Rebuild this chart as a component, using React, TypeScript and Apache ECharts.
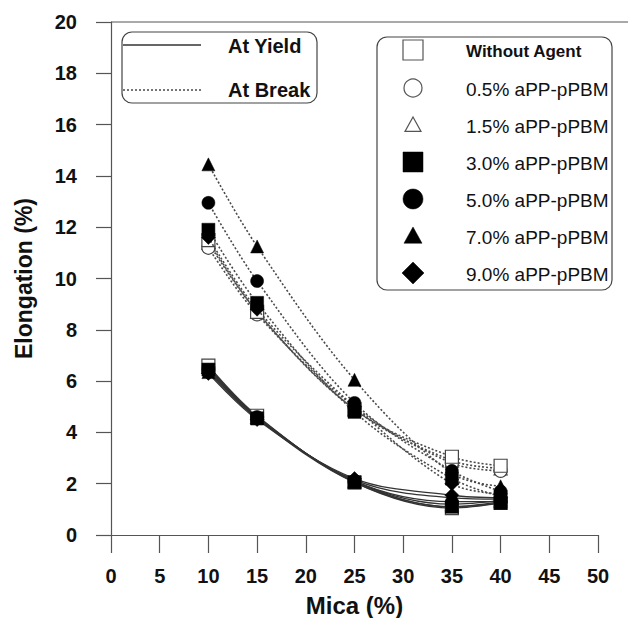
import React, { useEffect, useRef } from "react";
import * as echarts from "echarts";

const mica = [10, 15, 25, 35, 40];
const agents = [
  "Without Agent",
  "0.5% aPP-pPBM",
  "1.5% aPP-pPBM",
  "3.0% aPP-pPBM",
  "5.0% aPP-pPBM",
  "7.0% aPP-pPBM",
  "9.0% aPP-pPBM",
];
const breakWithout = [11.5, 8.7, 4.9, 3.05, 2.7];
const break05 = [11.2, 8.6, 5.0, 2.8, 2.5];
const break15 = [11.4, 8.7, 4.9, 2.9, 2.6];
const break30 = [11.9, 9.05, 4.8, 2.2, 1.5];
const break50 = [12.95, 9.9, 5.15, 2.5, 1.7];
const break70 = [14.45, 11.25, 6.05, 2.4, 1.9];
const break90 = [11.6, 8.8, 5.0, 2.0, 1.6];
const yieldWithout = [6.6, 4.65, 2.05, 1.05, 1.25];
const yield05 = [6.5, 4.6, 2.1, 1.1, 1.3];
const yield15 = [6.55, 4.6, 2.1, 1.2, 1.35];
const yield30 = [6.45, 4.55, 2.05, 1.1, 1.25];
const yield50 = [6.4, 4.6, 2.1, 1.3, 1.3];
const yield70 = [6.35, 4.55, 2.15, 1.45, 1.4];
const yield90 = [6.3, 4.5, 2.2, 1.55, 1.45];
const xTicks = [0, 5, 10, 15, 20, 25, 30, 35, 40, 45, 50];
const yTicks = [0, 2, 4, 6, 8, 10, 12, 14, 16, 18, 20];

const breaks = [breakWithout, break05, break15, break30, break50, break70, break90];
const yields = [yieldWithout, yield05, yield15, yield30, yield50, yield70, yield90];
const symbols = ["rect", "circle", "triangle", "rect", "circle", "triangle", "diamond"];
const open = [true, true, true, false, false, false, false];
const sizes = [13, 13, 13, 13, 13, 13, 14];

const FONT = "'Liberation Sans', Arial, sans-serif";

export default function App() {
  const ref = useRef<HTMLDivElement>(null);
  useEffect(() => {
    if (!ref.current) return;
    const chart = echarts.init(ref.current, null, { renderer: "svg" });
    const series: any[] = [];
    const mk = (vals: number[], i: number, kind: string) => ({
      type: "line",
      name: agents[i] + " " + kind,
      data: mica.map((x, j) => [x, vals[j]]),
      smooth: 0.35,
      symbol: symbols[i],
      symbolSize: sizes[i],
      z: open[i] ? 3 : 4,
      itemStyle: open[i]
        ? { color: "#fff", borderColor: "#444", borderWidth: 1.2 }
        : { color: "#000", borderColor: "#000", borderWidth: 0.5 },
      lineStyle:
        kind === "break"
          ? { color: "#4a4a4a", width: 1.6, type: [2, 2] }
          : { color: "#333", width: 1.3, type: "solid" },
    });
    for (let i = 6; i >= 0; i--) {
      series.push(mk(yields[i], i, "yield"));
      series.push(mk(breaks[i], i, "break"));
    }

    const graphics: any[] = [];
    graphics.push({
      type: "line",
      shape: { x1: 111, y1: 22, x2: 628, y2: 22 },
      style: { stroke: "#555", lineWidth: 1.2 },
    });
    graphics.push({
      type: "rect",
      shape: { x: 122, y: 32, width: 195, height: 71, r: 10 },
      style: { fill: "#fff", stroke: "#444", lineWidth: 1.2 },
      z: 10,
    });
    graphics.push({
      type: "line",
      shape: { x1: 123, y1: 45, x2: 201, y2: 45 },
      style: { stroke: "#333", lineWidth: 1.3 },
      z: 11,
    });
    graphics.push({
      type: "line",
      shape: { x1: 123, y1: 90, x2: 201, y2: 90 },
      style: { stroke: "#4a4a4a", lineWidth: 1.6, lineDash: [2, 2] },
      z: 11,
    });
    graphics.push({
      type: "text",
      x: 228,
      y: 46,
      style: { text: "At Yield", font: `bold 20px ${FONT}`, fill: "#111", verticalAlign: "middle" },
      z: 11,
    });
    graphics.push({
      type: "text",
      x: 228,
      y: 90,
      style: { text: "At Break", font: `bold 20px ${FONT}`, fill: "#111", verticalAlign: "middle" },
      z: 11,
    });
    graphics.push({
      type: "rect",
      shape: { x: 377, y: 37, width: 235, height: 253, r: 10 },
      style: { fill: "#fff", stroke: "#444", lineWidth: 1.2 },
      z: 10,
    });
    const rowY = [50, 88, 125, 162, 199, 236, 273];
    const cx = 413;
    agents.forEach((name, i) => {
      const y = rowY[i];
      const st = open[i]
        ? { fill: "#fff", stroke: "#555", lineWidth: 1.2 }
        : { fill: "#000", stroke: "#000", lineWidth: 0.5 };
      const s = symbols[i];
      if (s === "rect") {
        const w = 20;
        graphics.push({ type: "rect", shape: { x: cx - w / 2, y: y - w / 2, width: w, height: w }, style: st, z: 11 });
      } else if (s === "circle") {
        graphics.push({ type: "circle", shape: { cx, cy: y, r: open[i] ? 9 : 10 }, style: st, z: 11 });
      } else if (s === "triangle") {
        const h = open[i] ? 8 : 9;
        graphics.push({
          type: "polygon",
          shape: { points: [[cx, y - h], [cx + h, y + h * 0.8], [cx - h, y + h * 0.8]] },
          style: st,
          z: 11,
        });
      } else {
        graphics.push({
          type: "polygon",
          shape: { points: [[cx, y - 11], [cx + 11, y], [cx, y + 11], [cx - 11, y]] },
          style: st,
          z: 11,
        });
      }
      graphics.push({
        type: "text",
        x: 466,
        y: y + 1,
        style: {
          text: name,
          font: i === 0 ? `bold 17px ${FONT}` : `19px ${FONT}`,
          fill: "#111",
          verticalAlign: "middle",
        },
        z: 11,
      });
    });

    chart.setOption({
      animation: false,
      backgroundColor: "#fff",
      grid: { left: 111, right: 44, top: 22, bottom: 83, containLabel: false, outerBoundsMode: "none" },
      xAxis: {
        type: "value",
        min: xTicks[0],
        max: xTicks[xTicks.length - 1],
        interval: 5,
        name: "Mica (%)",
        nameLocation: "middle",
        nameGap: 58,
        nameTextStyle: { fontFamily: FONT, fontSize: 24, fontWeight: "bold", color: "#111" },
        axisLine: { onZero: false, lineStyle: { color: "#555", width: 1.2 } },
        axisTick: { show: true, inside: false, length: 18, lineStyle: { color: "#555", width: 1.2 } },
        axisLabel: { margin: 31, fontFamily: FONT, fontSize: 20, fontWeight: "bold", color: "#111" },
        splitLine: { show: false },
      },
      yAxis: {
        type: "value",
        min: yTicks[0],
        max: yTicks[yTicks.length - 1],
        interval: 2,
        name: "Elongation (%)",
        nameLocation: "middle",
        nameGap: 76,
        nameTextStyle: { fontFamily: FONT, fontSize: 23, fontWeight: "bold", color: "#111" },
        axisLine: { show: true, onZero: false, lineStyle: { color: "#555", width: 1.2 } },
        axisTick: { show: true, inside: false, length: 15, lineStyle: { color: "#555", width: 1.2 } },
        axisLabel: { margin: 34, fontFamily: FONT, fontSize: 20, fontWeight: "bold", color: "#111" },
        splitLine: { show: false },
      },
      series,
      graphic: graphics,
    });
    return () => chart.dispose();
  }, []);
  return <div ref={ref} style={{ width: 642, height: 618, position: "absolute", left: 0, top: 0 }} />;
}
